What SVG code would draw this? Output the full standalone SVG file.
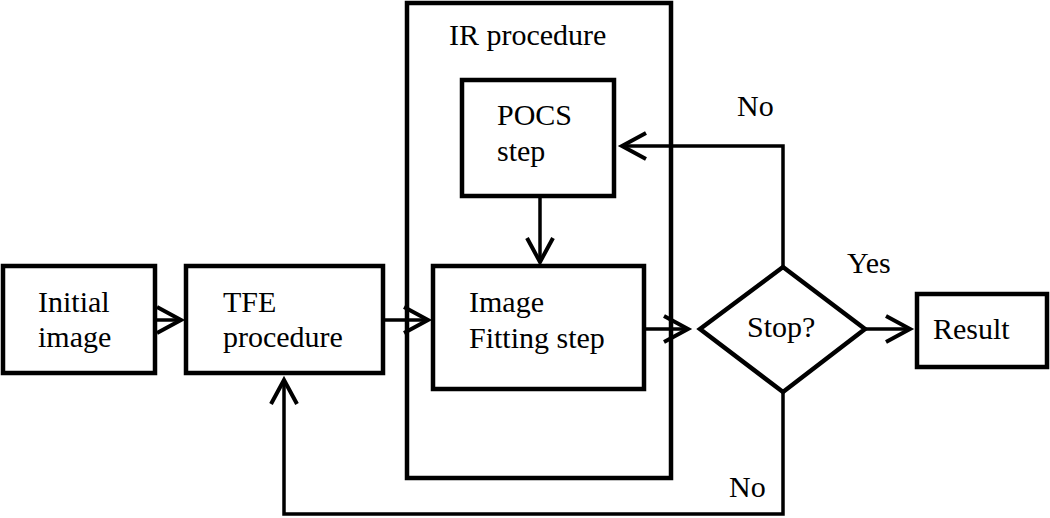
<svg xmlns="http://www.w3.org/2000/svg" width="1050" height="518" viewBox="0 0 1050 518">
<style>
.box{fill:none;stroke:#000;stroke-width:4.5}
.ln{fill:none;stroke:#000;stroke-width:3.5}
text{font-size:30px;fill:#000}
</style>
<defs>
<marker id="ah" markerUnits="userSpaceOnUse" markerWidth="40" markerHeight="40" viewBox="-30 -20 40 40" refX="0" refY="0" orient="auto" overflow="visible">
<path d="M-24,-13 L0,0 L-24,13" fill="none" stroke="#000" stroke-width="4"/>
</marker>
</defs>
<rect width="1050" height="518" fill="#fff"/>
<g font-family="'Liberation Serif', 'Times New Roman', 'DejaVu Serif', serif">
<g id="ir">
<rect class="box" x="407" y="3" width="264" height="475"/>
<text x="449" y="45">IR procedure</text>
</g>
<g id="initial">
<rect class="box" x="3" y="266" width="152" height="107"/>
<text x="38" y="312">Initial</text>
<text x="38" y="347">image</text>
</g>
<g id="tfe">
<rect class="box" x="186" y="266" width="197" height="107"/>
<text x="223" y="312">TFE</text>
<text x="223" y="347">procedure</text>
</g>
<g id="pocs">
<rect class="box" x="462" y="80" width="152" height="116"/>
<text x="497" y="125">POCS</text>
<text x="497" y="161">step</text>
</g>
<g id="fit">
<rect class="box" x="433" y="266" width="211" height="123"/>
<text x="469" y="312">Image</text>
<text x="469" y="348">Fitting step</text>
</g>
<g id="stop">
<polygon class="box" points="700,329 783,267 865,329 783,392"/>
<text x="747" y="337">Stop?</text>
</g>
<g id="result">
<rect class="box" x="917" y="294" width="130" height="73"/>
<text x="933" y="339">Result</text>
</g>
<g id="connectors">
<line class="ln" x1="155" y1="320" x2="181" y2="320" marker-end="url(#ah)"/>
<line class="ln" x1="383" y1="320" x2="428" y2="320" marker-end="url(#ah)"/>
<line class="ln" x1="540" y1="196" x2="540" y2="262" marker-end="url(#ah)"/>
<line class="ln" x1="644" y1="329" x2="688" y2="329" marker-end="url(#ah)"/>
<line class="ln" x1="865" y1="329" x2="910" y2="329" marker-end="url(#ah)"/>
<polyline class="ln" points="783,267 783,146 622,146" marker-end="url(#ah)"/>
<polyline class="ln" points="783,392 783,514 284,514 284,380" marker-end="url(#ah)"/>
<text x="847" y="273">Yes</text>
<text x="737" y="116">No</text>
<text x="729" y="497">No</text>
</g>
</g>
</svg>
